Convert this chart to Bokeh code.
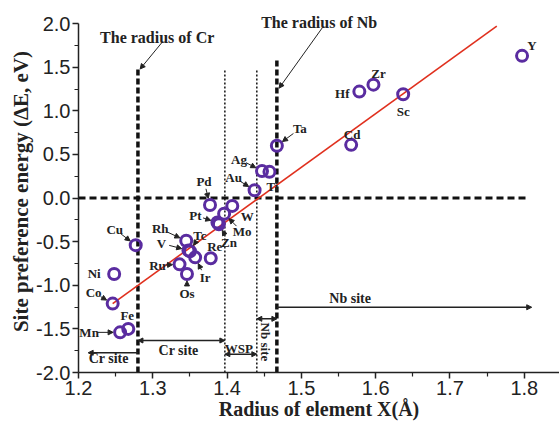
import math
from bokeh.plotting import figure
from bokeh.models import (Range1d, FixedTicker, PrintfTickFormatter, Arrow,
                          NormalHead, Label, ColumnDataSource)
from bokeh.embed import file_html
from bokeh.resources import INLINE
from bokeh.core.properties import value

# ---------------- data ----------------
elements = ["Mn", "Fe", "Co", "Ni", "Cu", "Ru", "Os", "Rh", "V", "Tc", "Ir", "Re",
            "Pt", "Zn", "Mo", "W", "Pd", "Au", "Ag", "Ti", "Ta", "Cd", "Hf", "Zr",
            "Sc", "Y"]
radius = [1.256, 1.267, 1.246, 1.248, 1.277, 1.336, 1.346, 1.345, 1.348, 1.350,
          1.357, 1.378, 1.387, 1.389, 1.396, 1.407, 1.377, 1.437, 1.447, 1.457,
          1.467, 1.567, 1.578, 1.597, 1.637, 1.797]
energy = [-1.54, -1.50, -1.21, -0.87, -0.54, -0.76, -0.87, -0.49, -0.60, -0.61,
          -0.68, -0.69, -0.28, -0.30, -0.18, -0.09, -0.08, 0.09, 0.31, 0.30,
          0.60, 0.61, 1.22, 1.30, 1.19, 1.63]

fit_x = [1.246, 1.763]
fit_y = [-1.21, 1.97]

cr_radius = 1.28
nb_radius = 1.467
wsp_bounds = [1.397, 1.44]
cr_line_top = 1.50
nb_line_top = 1.58
wsp_line_top = 1.48
zero_line_end = 1.805

x_ticks = [1.2, 1.3, 1.4, 1.5, 1.6, 1.7, 1.8]
y_ticks = [-2.0, -1.5, -1.0, -0.5, 0.0, 0.5, 1.0, 1.5, 2.0]

# label offsets (screen px, y downwards) and whether an arrow is drawn
label_style = {
    "Y": (10, -10, False), "Zr": (5, -11, False), "Hf": (-17, 2, False),
    "Sc": (0, 17, False), "Cd": (1, -10, False), "Ta": (23, -17, True),
    "Ag": (-23, -12, True), "Au": (-21, -13, True), "Ti": (3, 15, False),
    "Pd": (-6, -24, True), "W": (15, 11, False), "Mo": (18, 18, True),
    "Pt": (-22, -7, True), "Tc": (10, -16, True), "Zn": (10, 18, True),
    "Re": (4, -12, False), "Rh": (-26, -12, True), "V": (-27, -7, True),
    "Ru": (-22, 1, True), "Ir": (10, 20, True), "Os": (0, 20, True),
    "Ni": (-20, 0, False), "Co": (-19, -11, True), "Fe": (-1, -13, False),
    "Mn": (-31, 0, True), "Cu": (-21, -16, True),
}

X0, X1 = 1.2, 1.8474
Y0, Y1 = -2.0, 2.15

p = figure(width=559, height=424, output_backend="svg", toolbar_location=None,
           x_range=Range1d(X0, X1), y_range=Range1d(Y0, Y1),
           min_border_left=78, min_border_right=0, min_border_top=10,
           min_border_bottom=52)
p.outline_line_color = None
p.xgrid.visible = False
p.ygrid.visible = False
p.background_fill_color = "white"

# px/unit for label offsets
XS = 481.0 / (X1 - X0)
YS = 362.0 / (Y1 - Y0)

# axes
for ax in (p.xaxis[0], p.yaxis[0]):
    ax.axis_line_width = 1.5
    ax.axis_line_color = "#222222"
    ax.major_tick_line_width = 1.5
    ax.minor_tick_line_width = 1.2
    ax.major_tick_line_color = "#222222"
    ax.minor_tick_line_color = "#222222"
    ax.major_tick_out = 6
    ax.major_tick_in = 0
    ax.minor_tick_out = 4
    ax.minor_tick_in = 0
    ax.major_label_text_font = "Liberation Sans"
    ax.major_label_text_font_size = "20px"
    ax.major_label_text_color = "#222222"
    ax.major_label_standoff = 2
    ax.axis_label_text_font = "Liberation Serif"
    ax.axis_label_text_font_style = "bold"
    ax.axis_label_text_color = "#222222"
    ax.axis_label_standoff = 0
    ax.formatter = PrintfTickFormatter(format="%.1f")
p.xaxis[0].axis_label_text_font_size = "20px"
p.yaxis[0].axis_label_text_font_size = "21px"
p.yaxis[0].bounds = (Y0, 2.0)

x_minor = [round(t + 0.05, 2) for t in x_ticks]
y_minor = [round(t + 0.25, 2) for t in y_ticks[:-1]]
p.xaxis[0].ticker = FixedTicker(ticks=x_ticks, minor_ticks=x_minor)
p.yaxis[0].ticker = FixedTicker(ticks=y_ticks, minor_ticks=y_minor)
p.xaxis.axis_label = "Radius of element X(Å)"
p.yaxis.axis_label = "Site preference energy (ΔE, eV)"

# reference lines
p.segment(x0=[X0], y0=[0], x1=[zero_line_end], y1=[0], line_color="#111111",
          line_width=3, line_dash="7 4")
p.segment(x0=[cr_radius, nb_radius], y0=[Y0, Y0], x1=[cr_radius, nb_radius],
          y1=[cr_line_top, nb_line_top], line_color="#111111", line_width=3.5,
          line_dash="6 3")
p.segment(x0=wsp_bounds, y0=[Y0, Y0], x1=wsp_bounds,
          y1=[wsp_line_top, wsp_line_top], line_color="#111111", line_width=1.5,
          line_dash="2 2")

# fit line
p.line(fit_x, fit_y, line_color="#e0301e", line_width=1.6)

# points
src = ColumnDataSource(dict(x=radius, y=energy, name=elements))
p.scatter("x", "y", source=src, size=11, marker="circle", fill_color=None,
          line_color="#5a2ca0", line_width=3)

# element labels
for el, rx, ey in zip(elements, radius, energy):
    dx, dy, arr = label_style[el]
    p.text(x=[rx], y=[ey], text=[el], x_offset=dx, y_offset=dy,
           text_font=value("Liberation Serif"), text_font_style="bold",
           text_font_size="13px", text_color="#222222", text_align="center",
           text_baseline="middle")
    if arr:
        d = math.hypot(dx, dy)
        ux, uy = -dx / d, -dy / d
        sx = dx + ux * 8
        sy = dy + uy * 8
        exx = -ux * 7
        eyy = -uy * 7
        p.add_layout(Arrow(x_start=rx + sx / XS, y_start=ey - sy / YS,
                           x_end=rx + exx / XS, y_end=ey - eyy / YS,
                           line_width=1, line_color="#222222",
                           end=NormalHead(size=5, fill_color="#222222",
                                          line_color="#222222")))

FONT = "Liberation Serif"

def label(x, y, text, size="16px", angle=0.0):
    p.add_layout(Label(x=x, y=y, text=text, text_font=FONT, text_font_style="bold",
                       text_font_size=size, text_color="#222222",
                       text_align="center", text_baseline="middle", angle=angle))

def harrow(x0, x1, y, start=True, end=True):
    head = lambda: NormalHead(size=5, fill_color="#222222", line_color="#222222")
    p.add_layout(Arrow(x_start=x0, y_start=y, x_end=x1, y_end=y, line_width=1.5,
                       line_color="#222222", start=head() if start else None,
                       end=head() if end else None))

# radius annotations
label(1.314, 1.84, "The  radius  of  Cr")
p.add_layout(Arrow(x_start=1.312, y_start=1.78, x_end=cr_radius + 0.003,
                   y_end=cr_line_top - 0.02, line_width=1, line_color="#222222",
                   end=NormalHead(size=5, fill_color="#222222", line_color="#222222")))
label(1.532, 2.015, "The  radius  of  Nb")
p.add_layout(Arrow(x_start=1.528, y_start=1.95, x_end=nb_radius + 0.003,
                   y_end=1.26, line_width=1, line_color="#222222",
                   end=NormalHead(size=5, fill_color="#222222", line_color="#222222")))

# site ranges
harrow(nb_radius, 1.81, -1.252, start=False, end=True)
label(1.568, -1.155, "Nb  site", "14px")
harrow(wsp_bounds[1], nb_radius, -1.385)
label(1.452, -1.668, "Nb  site", "13px", angle=-math.pi / 2)
harrow(wsp_bounds[0], wsp_bounds[1], -1.79)
label(1.4158, -1.73, "WSP", "13px")
harrow(cr_radius, wsp_bounds[0], -1.633)
label(1.337, -1.748, "Cr  site", "14px")
harrow(cr_radius, 1.213, -1.774, start=False, end=True)
label(1.243, -1.843, "Cr  site", "14px")

open("out.html", "w").write(file_html(p, INLINE))
